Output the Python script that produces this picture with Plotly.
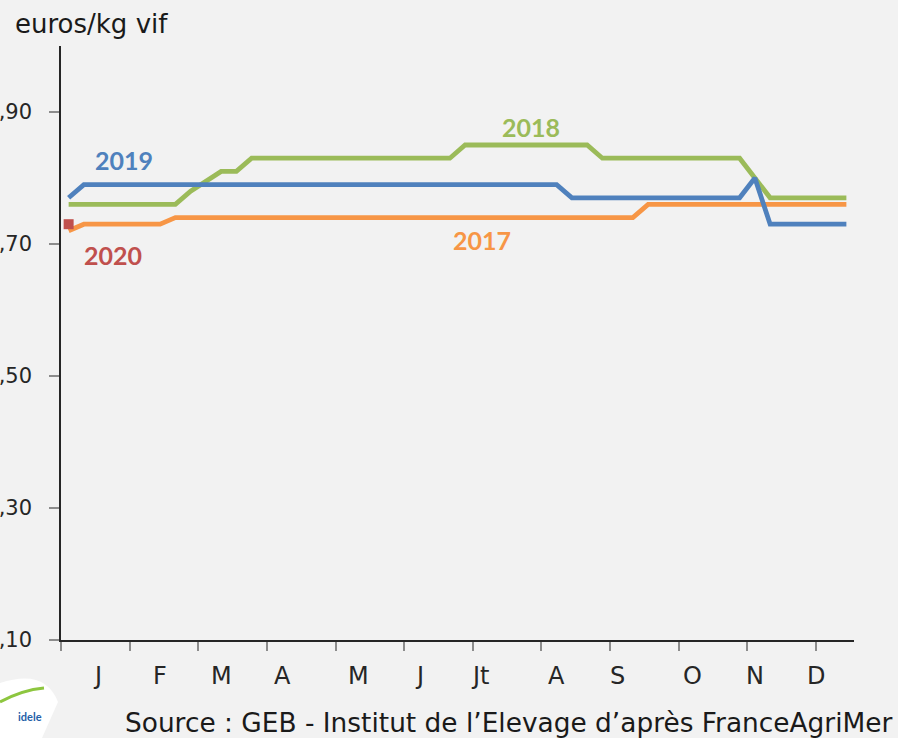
import plotly.graph_objects as go

weeks = list(range(1, 53))

s2017 = [1.72,
         1.73, 1.73, 1.73, 1.73, 1.73, 1.73,
         1.74, 1.74, 1.74, 1.74, 1.74, 1.74, 1.74, 1.74, 1.74, 1.74,
         1.74, 1.74, 1.74, 1.74, 1.74, 1.74, 1.74, 1.74, 1.74, 1.74,
         1.74, 1.74, 1.74, 1.74, 1.74, 1.74, 1.74, 1.74, 1.74, 1.74, 1.74,
         1.76, 1.76, 1.76, 1.76, 1.76, 1.76, 1.76, 1.76, 1.76, 1.76,
         1.76, 1.76, 1.76, 1.76]

s2018 = [1.76, 1.76, 1.76, 1.76, 1.76, 1.76, 1.76, 1.76,
         1.78, 1.795, 1.81, 1.81,
         1.83, 1.83, 1.83, 1.83, 1.83, 1.83, 1.83, 1.83, 1.83, 1.83,
         1.83, 1.83, 1.83, 1.83,
         1.85, 1.85, 1.85, 1.85, 1.85, 1.85, 1.85, 1.85, 1.85,
         1.83, 1.83, 1.83, 1.83, 1.83, 1.83, 1.83, 1.83, 1.83, 1.83,
         1.80,
         1.77, 1.77, 1.77, 1.77, 1.77, 1.77]

s2019 = [1.77,
         1.79, 1.79, 1.79, 1.79, 1.79, 1.79, 1.79, 1.79, 1.79, 1.79,
         1.79, 1.79, 1.79, 1.79, 1.79, 1.79, 1.79, 1.79, 1.79, 1.79,
         1.79, 1.79, 1.79, 1.79, 1.79, 1.79, 1.79, 1.79, 1.79, 1.79,
         1.79, 1.79,
         1.77, 1.77, 1.77, 1.77, 1.77, 1.77, 1.77, 1.77, 1.77, 1.77,
         1.77, 1.77,
         1.80,
         1.73, 1.73, 1.73, 1.73, 1.73, 1.73]

weeks_2020 = [1]
s2020 = [1.73]

month_labels = ["J", "F", "M", "A", "M", "J", "Jt", "A", "S", "O", "N", "D"]
month_label_weeks = [2.9, 7.0, 11.0, 15.0, 20.0, 24.0, 28.0, 33.0, 37.0, 41.9, 46.0, 50.0]
month_tick_weeks = [0.5, 5.0, 9.5, 14.0, 18.5, 23.0, 27.5, 32.0, 36.5, 41.0, 45.5, 50.0]

y_tickvals = [1.10, 1.30, 1.50, 1.70, 1.90]
y_ticktext = [",10", ",30", ",50", ",70", ",90"]

series_labels = [("2019", 4.6, 1.827), ("2018", 31.3, 1.878), ("2017", 28.1, 1.706), ("2020", 3.9, 1.683)]

C2017 = "#f79646"
C2018 = "#9bbb59"
C2019 = "#4f81bd"
C2020 = "#c0504d"
label_colors = {"2019": C2019, "2018": C2018, "2017": C2017, "2020": C2020}

BG = "#f2f2f2"
FONT = "DejaVu Sans"
TXT = "#262626"

W, H = 898, 738
L, R, T, B = 61, 44, 46, 98
PW, PH = W - L - R, H - T - B


def px(xp):
    return (xp - L) / PW


def py(yp):
    return (H - B - yp) / PH


fig = go.Figure()
fig.add_trace(go.Scatter(x=weeks, y=s2017, mode="lines", line=dict(color=C2017, width=4.8), name="2017"))
fig.add_trace(go.Scatter(x=weeks, y=s2018, mode="lines", line=dict(color=C2018, width=4.8), name="2018"))
fig.add_trace(go.Scatter(x=weeks, y=s2019, mode="lines", line=dict(color=C2019, width=4.8), name="2019"))
fig.add_trace(go.Scatter(x=weeks_2020, y=s2020, mode="markers",
                         marker=dict(color=C2020, symbol="square", size=10), name="2020"))

for txt, xw, yv in series_labels:
    fig.add_annotation(x=xw, y=yv, xref="x", yref="y", text="<b>" + txt + "</b>", showarrow=False,
                       font=dict(family="Lato", size=25, color=label_colors[txt]))

for lab, xw in zip(month_labels, month_label_weeks):
    fig.add_annotation(x=xw, y=py(676), xref="x", yref="paper", text=lab, showarrow=False,
                       yanchor="middle", font=dict(family=FONT, size=24, color=TXT))

# axis unit label at top left
fig.add_annotation(x=px(13), y=py(24), xref="paper", yref="paper", text="euros/kg vif",
                   showarrow=False, xanchor="left", yanchor="middle",
                   font=dict(family=FONT, size=26, color="#1a1a1a"))

# source
fig.add_annotation(x=px(895), y=py(722), xref="paper", yref="paper",
                   text="Source : GEB - Institut de l\u2019Elevage d\u2019apr\u00e8s FranceAgriMer",
                   showarrow=False, xanchor="right", yanchor="middle",
                   font=dict(family=FONT, size=26.4, color="#1a1a1a"))

# logo blob
fig.add_shape(type="path", xref="paper", yref="paper",
              path="M {a},{b} Q {c},{d} {e},{f} L {g},{h} L {a},{h} Z".format(
                  a=px(0), b=py(683), c=px(45), d=py(668), e=px(58), f=py(702),
                  g=px(42), h=py(738)),
              fillcolor="white", line=dict(width=0), layer="above")
fig.add_shape(type="path", xref="paper", yref="paper",
              path="M {a},{b} Q {c},{d} {e},{f}".format(
                  a=px(0), b=py(702), c=px(22), d=py(690), e=px(44), f=py(688)),
              line=dict(color="#8dc63f", width=3), layer="above")
fig.add_annotation(x=px(30), y=py(716), xref="paper", yref="paper",
                   text="<b>idele</b>", showarrow=False, xanchor="center", yanchor="middle",
                   font=dict(family="Lato", size=11, color="#1f5fa8"))

fig.update_layout(
    width=W, height=H,
    margin=dict(l=L, r=R, t=T, b=B),
    paper_bgcolor=BG, plot_bgcolor=BG,
    showlegend=False,
    xaxis=dict(range=[0.5, 52.5], tickvals=month_tick_weeks, ticktext=[""] * len(month_tick_weeks),
               ticks="outside", ticklen=9, tickcolor="#8c8c8c", tickwidth=1.5,
               showline=True, linecolor=TXT, linewidth=1.5, showgrid=False, zeroline=False,
               automargin=False, fixedrange=True),
    yaxis=dict(range=[1.10, 2.00], tickvals=y_tickvals, ticktext=y_ticktext,
               ticks="outside", ticklen=10, tickcolor="#8c8c8c", tickwidth=1.5,
               showline=True, linecolor=TXT, linewidth=1.5, showgrid=False, zeroline=False,
               tickfont=dict(family=FONT, size=21, color=TXT), ticklabelstandoff=13,
               automargin=False, fixedrange=True),
)

fig.write_html("out.html", config={"displayModeBar": False},
               post_script="document.body.style.margin='0';")
